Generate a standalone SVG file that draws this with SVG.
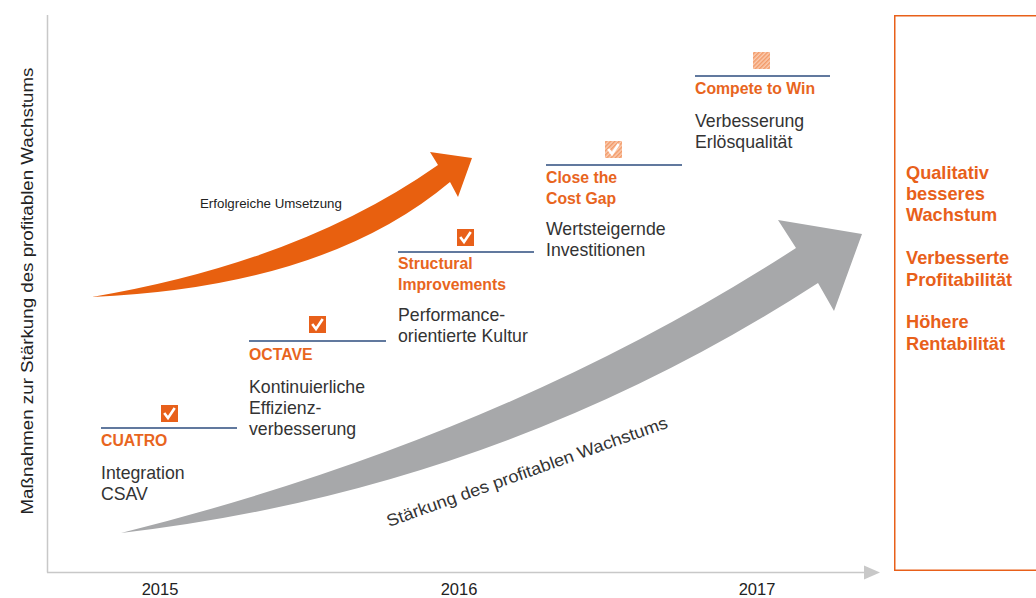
<svg xmlns="http://www.w3.org/2000/svg" width="1036" height="598" viewBox="0 0 1036 598">
<defs>
<style>
text{font-family:"Liberation Sans",Arial,sans-serif}
.body{font-size:17.7px;fill:#333}
.lab{font-size:15.8px;font-weight:bold;fill:#E8651E}
.res{font-size:18.2px;font-weight:bold;fill:#E8601A}
.year{font-size:16.5px;fill:#222}
.rule{stroke:#2C4C7E;stroke-width:1.5}
.box{fill:#E8601A}
.chk{fill:none;stroke:#fff;stroke-width:2.6;stroke-linecap:square}
.axis{stroke:#C8C8C8;stroke-width:1.5;fill:none}
</style>
<pattern id="hatch" width="3" height="3" patternUnits="userSpaceOnUse" patternTransform="rotate(45)">
<rect width="3" height="3" fill="#FBCDB2"/>
<rect width="1.5" height="3" fill="#F29A68"/>
</pattern>
</defs>

<g id="axes">
<line class="axis" x1="47.5" y1="15" x2="47.5" y2="572.5"/>
<line class="axis" x1="47" y1="572.5" x2="866" y2="572.5"/>
<polygon points="864,565.5 880,572.5 864,579.5" fill="#C8C8C8"/>
<text x="33" y="291" transform="rotate(-90 33 291)" text-anchor="middle" font-size="16.5" fill="#222" textLength="447" lengthAdjust="spacingAndGlyphs">Maßnahmen zur Stärkung des profitablen Wachstums</text>
<text class="year" x="160" y="595" text-anchor="middle">2015</text>
<text class="year" x="459" y="595" text-anchor="middle">2016</text>
<text class="year" x="757" y="595" text-anchor="middle">2017</text>
</g>

<g id="connectors">
<path id="grey-arrow" d="M121,533 Q505,437 796,248 L778,220 L862,234 L834,311 L818,283 Q500,489 121,533 Z" fill="#A7A8AA"/>
<path id="orange-arrow" d="M92,297 Q300,262 438,165 L430,152 L472,158 L458,197 L450,182 Q325,287 92,297 Z" fill="#E8600F"/>
<text x="200" y="208" font-size="13.3" fill="#222">Erfolgreiche Umsetzung</text>
<text x="0" y="0" transform="translate(389,527) rotate(-19.6)" font-size="17" fill="#333" textLength="297" lengthAdjust="spacingAndGlyphs">Stärkung des profitablen Wachstums</text>
</g>

<g id="cuatro">
<rect class="box" x="161" y="405" width="17" height="17"/>
<path class="chk" d="M165,414 L168,418 L174,409"/>
<line class="rule" x1="101" y1="428" x2="237" y2="428"/>
<text class="lab" x="101" y="446">CUATRO</text>
<text class="body" x="101" y="479">Integration</text>
<text class="body" x="101" y="500">CSAV</text>
</g>

<g id="octave">
<rect class="box" x="309" y="316" width="17" height="17"/>
<path class="chk" d="M313,325 L316,329 L322,320"/>
<line class="rule" x1="249" y1="341" x2="386" y2="341"/>
<text class="lab" x="249" y="360">OCTAVE</text>
<text class="body" x="249" y="393">Kontinuierliche</text>
<text class="body" x="249" y="414">Effizienz-</text>
<text class="body" x="249" y="435">verbesserung</text>
</g>

<g id="structural">
<rect class="box" x="457" y="229" width="17" height="17"/>
<path class="chk" d="M461,238 L464,242 L470,233"/>
<line class="rule" x1="398" y1="252" x2="534" y2="252"/>
<text class="lab" x="398" y="269">Structural</text>
<text class="lab" x="398" y="290">Improvements</text>
<text class="body" x="398" y="321">Performance-</text>
<text class="body" x="398" y="342">orientierte Kultur</text>
</g>

<g id="close-cost-gap">
<rect x="605" y="141" width="17" height="17" fill="url(#hatch)"/>
<path class="chk" d="M609,150 L612,154 L618,145"/>
<line class="rule" x1="546" y1="165" x2="682" y2="165"/>
<text class="lab" x="546" y="183">Close the</text>
<text class="lab" x="546" y="204">Cost Gap</text>
<text class="body" x="546" y="235">Wertsteigernde</text>
<text class="body" x="546" y="256">Investitionen</text>
</g>

<g id="compete-to-win">
<rect x="753" y="52" width="17" height="17" fill="url(#hatch)"/>
<line class="rule" x1="695" y1="76" x2="830" y2="76"/>
<text class="lab" x="695" y="94">Compete to Win</text>
<text class="body" x="695" y="127">Verbesserung</text>
<text class="body" x="695" y="148">Erlösqualität</text>
</g>

<g id="results">
<rect x="894.75" y="15.75" width="200" height="554.5" fill="none" stroke="#E8601A" stroke-width="1.5"/>
<text class="res" x="906" y="179">Qualitativ</text>
<text class="res" x="906" y="200">besseres</text>
<text class="res" x="906" y="221">Wachstum</text>
<text class="res" x="906" y="264">Verbesserte</text>
<text class="res" x="906" y="286">Profitabilität</text>
<text class="res" x="906" y="328">Höhere</text>
<text class="res" x="906" y="350">Rentabilität</text>
</g>
</svg>
